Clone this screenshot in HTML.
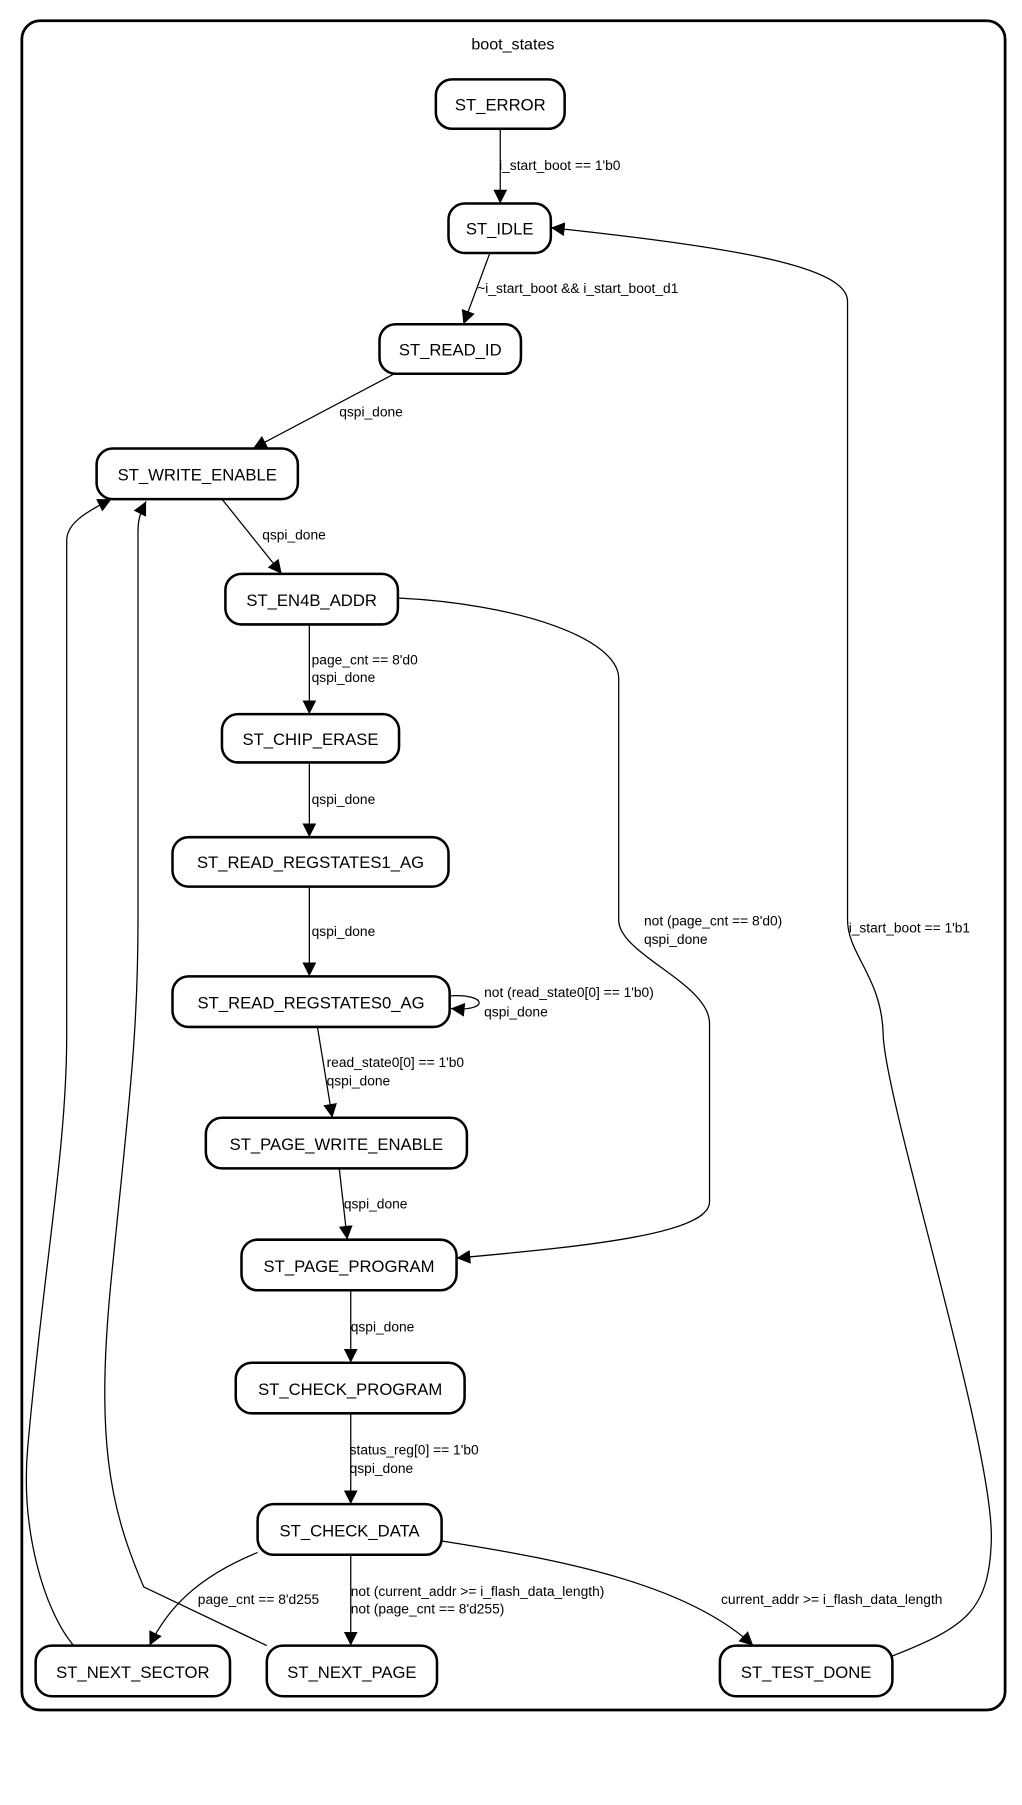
<!DOCTYPE html>
<html><head><meta charset="utf-8"><style>
html,body{margin:0;padding:0;background:#fff}
svg{display:block}
text{font-family:"Liberation Sans",Arial,sans-serif;fill:#000}
.n{font-size:14.5px;text-anchor:middle}
.e{font-size:12px}
rect{fill:#fff;stroke:#000;stroke-width:2.2}
path,line{stroke:#000;stroke-width:1.1;fill:none}
</style></head><body>
<svg width="1022" height="1805" viewBox="0 0 888.7 1569.6" preserveAspectRatio="none" xmlns="http://www.w3.org/2000/svg">
<defs><marker id="a" viewBox="0 0 10 10" refX="10" refY="5" markerWidth="12" markerHeight="12" markerUnits="userSpaceOnUse" orient="auto"><path d="M0,0 L10,5 L0,10 z" style="fill:#000;stroke:none"/></marker></defs>
<rect x="19" y="18" width="855" height="1469" rx="16" style="stroke-width:2.4"/>
<text x="446" y="43" class="n" style="font-size:14px">boot_states</text>

<line x1="435" y1="112" x2="435" y2="177" marker-end="url(#a)"/>
<text x="434" y="148" class="e">i_start_boot == 1'b0</text>
<line x1="426" y1="220" x2="403" y2="282" marker-end="url(#a)"/>
<text x="415" y="255" class="e">~i_start_boot &amp;&amp; i_start_boot_d1</text>
<line x1="343" y1="325" x2="220" y2="390" marker-end="url(#a)"/>
<text x="295" y="362" class="e">qspi_done</text>
<line x1="193" y1="434" x2="245" y2="499" marker-end="url(#a)"/>
<text x="228" y="469" class="e">qspi_done</text>
<line x1="269" y1="543" x2="269" y2="621" marker-end="url(#a)"/>
<text x="271" y="578" class="e">page_cnt == 8'd0</text>
<text x="271" y="593" class="e">qspi_done</text>
<line x1="269" y1="663" x2="269" y2="728" marker-end="url(#a)"/>
<text x="271" y="699" class="e">qspi_done</text>
<line x1="269" y1="771" x2="269" y2="849" marker-end="url(#a)"/>
<text x="271" y="814" class="e">qspi_done</text>
<path d="M391,866 C425,864 425,880 392,877" marker-end="url(#a)"/>
<text x="421" y="867" class="e">not (read_state0[0] == 1'b0)</text>
<text x="421" y="884" class="e">qspi_done</text>
<line x1="276" y1="893" x2="289" y2="972" marker-end="url(#a)"/>
<text x="284" y="928" class="e">read_state0[0] == 1'b0</text>
<text x="284" y="944" class="e">qspi_done</text>
<line x1="295" y1="1016" x2="302" y2="1078" marker-end="url(#a)"/>
<text x="299" y="1051" class="e">qspi_done</text>
<path d="M346,520 C450,525 538,555 538,590 L538,800 C538,830 617,855 617,890 L617,1045 C617,1072 520,1083 397,1094" marker-end="url(#a)"/>
<text x="560" y="805" class="e">not (page_cnt == 8'd0)</text>
<text x="560" y="821" class="e">qspi_done</text>
<line x1="305" y1="1122" x2="305" y2="1185" marker-end="url(#a)"/>
<text x="305" y="1158" class="e">qspi_done</text>
<line x1="305" y1="1229" x2="305" y2="1308" marker-end="url(#a)"/>
<text x="304" y="1265" class="e">status_reg[0]  == 1'b0</text>
<text x="304" y="1281" class="e">qspi_done</text>
<path d="M224,1350 C170,1372 145,1400 130,1431" marker-end="url(#a)"/>
<text x="172" y="1395" class="e">page_cnt == 8'd255</text>
<line x1="305" y1="1352" x2="305" y2="1431" marker-end="url(#a)"/>
<text x="305" y="1388" class="e">not (current_addr &gt;= i_flash_data_length)</text>
<text x="305" y="1403" class="e">not (page_cnt == 8'd255)</text>
<path d="M384,1340 C500,1358 600,1380 655,1431" marker-end="url(#a)"/>
<text x="627" y="1395" class="e">current_addr &gt;= i_flash_data_length</text>
<path d="M776,1440 C840,1415 860,1400 862,1340 C865,1260 770,960 768,900 C767,850 737,830 737,800 L737,262 C737,232 640,215 479,198" marker-end="url(#a)"/>
<text x="738" y="811" class="e">i_start_boot == 1'b1</text>
<path d="M64,1431 C38,1400 18,1330 24,1260 C38,1100 58,1000 58,900 L58,470 C58,455 75,445 97,434" marker-end="url(#a)"/>
<path d="M232,1431 L125,1380 C95,1310 82,1250 98,1100 C112,960 120,900 120,800 L120,462 C120,450 123,444 127,436" marker-end="url(#a)"/>

<rect x="379" y="69" width="112" height="43" rx="14"/><text x="435" y="96" class="n">ST_ERROR</text>
<rect x="390" y="177" width="89" height="43" rx="14"/><text x="434.5" y="204" class="n">ST_IDLE</text>
<rect x="330" y="282" width="123" height="43" rx="14"/><text x="391.5" y="309" class="n">ST_READ_ID</text>
<rect x="84" y="390" width="175" height="44" rx="14"/><text x="171.5" y="418" class="n">ST_WRITE_ENABLE</text>
<rect x="196" y="499" width="150" height="44" rx="14"/><text x="271" y="527" class="n">ST_EN4B_ADDR</text>
<rect x="193" y="621" width="154" height="42" rx="14"/><text x="270" y="648" class="n">ST_CHIP_ERASE</text>
<rect x="150" y="728" width="240" height="43" rx="14"/><text x="270" y="755" class="n">ST_READ_REGSTATES1_AG</text>
<rect x="150" y="849" width="241" height="44" rx="14"/><text x="270.5" y="877" class="n">ST_READ_REGSTATES0_AG</text>
<rect x="179" y="972" width="227" height="44" rx="14"/><text x="292.5" y="1000" class="n">ST_PAGE_WRITE_ENABLE</text>
<rect x="210" y="1078" width="187" height="44" rx="14"/><text x="303.5" y="1106" class="n">ST_PAGE_PROGRAM</text>
<rect x="205" y="1185" width="199" height="44" rx="14"/><text x="304.5" y="1213" class="n">ST_CHECK_PROGRAM</text>
<rect x="224" y="1308" width="160" height="44" rx="14"/><text x="304" y="1336" class="n">ST_CHECK_DATA</text>
<rect x="31" y="1431" width="169" height="44" rx="14"/><text x="115.5" y="1459" class="n">ST_NEXT_SECTOR</text>
<rect x="232" y="1431" width="148" height="44" rx="14"/><text x="306" y="1459" class="n">ST_NEXT_PAGE</text>
<rect x="626" y="1431" width="150" height="44" rx="14"/><text x="701" y="1459" class="n">ST_TEST_DONE</text>
</svg>
</body></html>
